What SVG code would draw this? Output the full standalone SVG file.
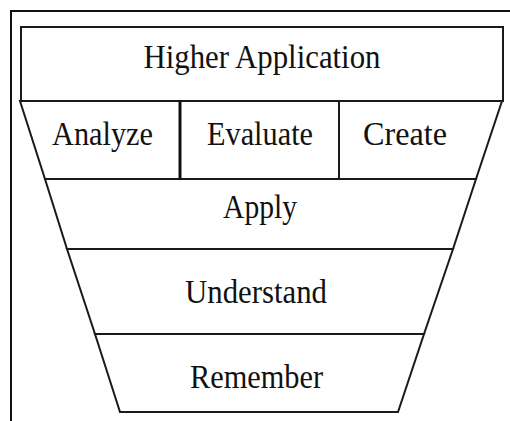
<svg xmlns="http://www.w3.org/2000/svg" width="510" height="421" viewBox="0 0 510 421">
<style>
.box{fill:#fff;stroke:#1a1a1a;stroke-width:2;stroke-linejoin:miter}
.lbl{font-family:"Liberation Serif","Times New Roman",serif;font-size:33px;fill:#111;text-anchor:middle}
</style>
<rect x="0" y="0" width="510" height="421" fill="#fff"/>
<rect x="11" y="11" width="520" height="430" fill="none" stroke="#111" stroke-width="2"/>
<g id="higher-application">
<rect class="box" x="21" y="27" width="482" height="74"/>
<text class="lbl" x="262" y="68" textLength="237" lengthAdjust="spacingAndGlyphs">Higher Application</text>
</g>
<g id="analyze">
<polygon class="box" points="20,101 180,101 180,179 45,179"/>
<text class="lbl" x="102.5" y="145" textLength="101" lengthAdjust="spacingAndGlyphs">Analyze</text>
</g>
<g id="evaluate">
<polygon class="box" points="180,101 339,101 339,179 180,179"/>
<text class="lbl" x="260" y="145" textLength="106" lengthAdjust="spacingAndGlyphs">Evaluate</text>
</g>
<g id="create">
<polygon class="box" points="339,101 502,101 476,179 339,179"/>
<text class="lbl" x="405" y="145" textLength="84" lengthAdjust="spacingAndGlyphs">Create</text>
</g>
<g id="apply">
<polygon class="box" points="45,179 476,179 453,249 67,249"/>
<text class="lbl" x="260" y="218" textLength="74" lengthAdjust="spacingAndGlyphs">Apply</text>
</g>
<g id="understand">
<polygon class="box" points="67,249 453,249 424,334 95,334"/>
<text class="lbl" x="256" y="303" textLength="142" lengthAdjust="spacingAndGlyphs">Understand</text>
</g>
<g id="remember">
<polygon class="box" points="95,334 424,334 398,412 120,412"/>
<text class="lbl" x="256.5" y="388" textLength="133" lengthAdjust="spacingAndGlyphs">Remember</text>
</g>
<line x1="180" y1="101" x2="180" y2="179" stroke="#111" stroke-width="3"/>
<g id="connectors"></g>
</svg>
